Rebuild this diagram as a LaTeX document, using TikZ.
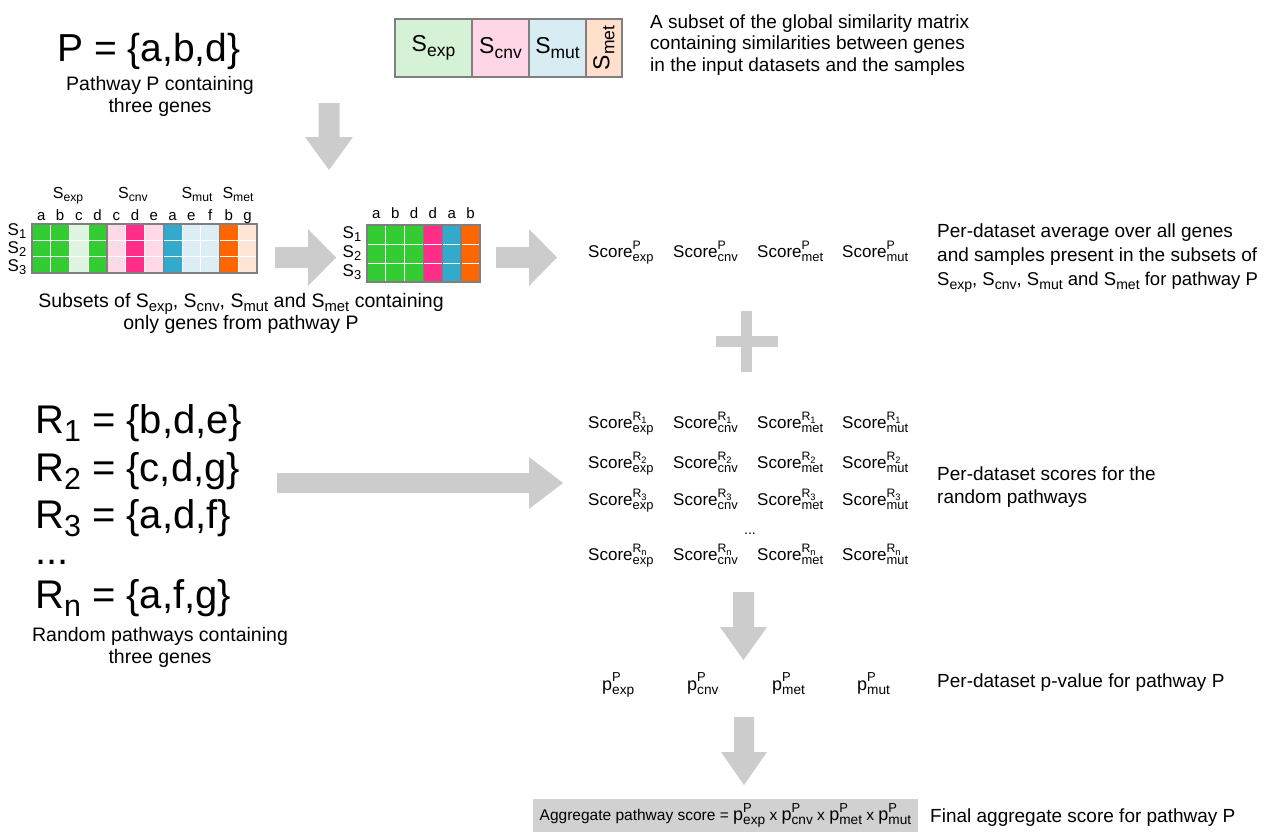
\documentclass[tikz,border=0pt]{standalone}
\usepackage{fontspec}
\setmainfont{Liberation Sans}
\makeatletter
\newcommand\subfs{\fontsize{\fpeval{0.76*\f@size}}{\fpeval{0.76*\f@size}}\selectfont}
\newcommand\supfs{\fontsize{\fpeval{0.72*\f@size}}{\fpeval{0.72*\f@size}}\selectfont}
\makeatother
\newcommand\setfs[1]{\fontsize{#1}{#1}\selectfont}
% lowered subscript
\newcommand\sbs[1]{\raisebox{-0.22em}{\subfs #1}}
% superscript stacked over subscript
\newcommand\sps[2]{\rlap{\raisebox{0.45em}{\supfs #1}}\raisebox{-0.26em}{\subfs #2}}

\definecolor{dg}{HTML}{33CC33}
\definecolor{lg}{HTML}{E0F5E0}
\definecolor{hp}{HTML}{FF2E88}
\definecolor{lp}{HTML}{FFD9E8}
\definecolor{tl}{HTML}{33AACC}
\definecolor{lb}{HTML}{DCEEF5}
\definecolor{orc}{HTML}{FF6600}
\definecolor{pc}{HTML}{FFE5D6}
\definecolor{mexp}{HTML}{D6F2D6}
\definecolor{mcnv}{HTML}{FFD6E7}
\definecolor{mmut}{HTML}{D8ECF3}
\definecolor{mmet}{HTML}{FFE0CC}
\definecolor{bord}{HTML}{7F7F7F}

\tikzset{
  txt/.style={inner sep=0, anchor=base west, font=\setfs{19}},
  ctxt/.style={inner sep=0, anchor=base, font=\setfs{19.5}},
  big/.style={inner sep=0, anchor=base west, font=\setfs{39}},
  sc/.style={inner sep=0, anchor=base west, font=\setfs{17}},
  pv/.style={inner sep=0, anchor=base west, font=\setfs{18}},
  lab/.style={inner sep=0, anchor=base, font=\setfs{15}},
  glab/.style={inner sep=0, anchor=base, font=\setfs{16}},
  rlab/.style={inner sep=0, anchor=base, font=\setfs{17}},
  cell/.style={draw=bord, line width=1.5pt, inner sep=0, minimum height=58, font=\setfs{23}},
  blk/.style={fill=black!20, draw=none},
  grp/.style={draw=bord, line width=1.5pt},
  gridln/.style={white, line width=0.8pt},
}

\begin{document}
\begin{tikzpicture}[x=1pt,y=-1pt]
\useasboundingbox (0,0) rectangle (1265,831);

% ---- pathway P ----
\node[big] (P) at (57,61) {P = \{a,b,d\}};
\node[ctxt] (Pc1) at (160,90) {Pathway P containing};
\node[ctxt] (Pc2) at (160,112) {three genes};

% ---- global similarity matrix ----
\node[cell, fill=mexp, minimum width=77] (gexp) at (433.5,48) {S\sbs{exp}};
\node[cell, fill=mcnv, minimum width=57] (gcnv) at (500.5,48) {S\sbs{cnv}};
\node[cell, fill=mmut, minimum width=57] (gmut) at (557.5,48) {S\sbs{mut}};
\node[cell, fill=mmet, minimum width=36] (gmet) at (604,48) {};
\node[inner sep=0, rotate=90, font=\setfs{23}] (gmetl) at (gmet) {S\sbs{met}};

\node[txt] (g1) at (650,28) {A subset of the global similarity matrix};
\node[txt] (g2) at (650,49.5) {containing similarities between genes};
\node[txt] (g3) at (650,71) {in the input datasets and the samples};

% down arrow
\fill[blk] (318.5,103) -- (339.5,103) -- (339.5,137) -- (353,137) -- (329,170) -- (305,137) -- (318.5,137) -- cycle;

% ---- subsets of the four matrices ----
\foreach \c [count=\i from 0] in {dg,dg,lg,dg,lp,hp,lp,tl,lb,lb,orc,pc}
  \fill[\c] ({32+\i*18.75},224) rectangle ++(18.75,49);
\foreach \i in {1,...,11}
  \draw[gridln] ({32+\i*18.75},224) -- ++(0,49);
\foreach \j in {1,2}
  \draw[gridln] (32,{224+\j*49/3}) -- (257,{224+\j*49/3});
\draw[grp] (32,224) rectangle (107,273);
\draw[grp] (107,224) rectangle (163.25,273);
\draw[grp] (163.25,224) rectangle (219.5,273);
\draw[grp] (219.5,224) rectangle (257,273);
\foreach \l [count=\i from 0] in {a,b,c,d,c,d,e,a,e,f,b,g}
  \node[lab] (lc\i) at ({32+(\i+0.5)*18.75},220) {\l};
\node[glab] (lsexp) at (68,198) {S\sbs{exp}};
\node[glab] (lscnv) at (133,198) {S\sbs{cnv}};
\node[glab] (lsmut) at (197,198) {S\sbs{mut}};
\node[glab] (lsmet) at (238,198) {S\sbs{met}};
\foreach \r/\y in {1/235,2/253,3/271}
  \node[rlab] (lr\r) at (17,\y) {S\sbs{\r}};

\node[ctxt] (sc1) at (241,307) {Subsets of S\sbs{exp}, S\sbs{cnv}, S\sbs{mut} and S\sbs{met} containing};
\node[ctxt] (sc2) at (241,329) {only genes from pathway P};

% arrow to merged matrix
\fill[blk] (275,247) -- (308,247) -- (308,229) -- (336,257.5) -- (308,286) -- (308,268) -- (275,268) -- cycle;

% ---- merged subset ----
\foreach \c [count=\i from 0] in {dg,dg,dg,hp,tl,orc}
  \fill[\c] ({367+\i*18.83},225) rectangle ++(18.83,57);
\foreach \i in {1,2}
  \draw[gridln] ({367+\i*18.83},225) -- ++(0,57);
\foreach \j in {1,2}
  \draw[gridln] (367,{225+\j*19}) -- (480,{225+\j*19});
\draw[grp] (367,225) rectangle (423.5,282);
\draw[grp] (423.5,225) rectangle (442.3,282);
\draw[grp] (442.3,225) rectangle (461.2,282);
\draw[grp] (461.2,225) rectangle (480,282);
\foreach \l [count=\i from 0] in {a,b,d,d,a,b}
  \node[lab] (mc\i) at ({367+(\i+0.5)*18.83},218) {\l};
\foreach \r/\y in {1/238,2/257,3/276}
  \node[rlab] (mr\r) at (352,\y) {S\sbs{\r}};

% arrow to scores
\fill[blk] (496,247) -- (529,247) -- (529,229) -- (557,257.5) -- (529,286) -- (529,268) -- (496,268) -- cycle;

% ---- scores of pathway P ----
\node[sc] (spexp) at (588,257) {Score\sps{P}{exp}};
\node[sc] (spcnv) at (673,257) {Score\sps{P}{cnv}};
\node[sc] (spmet) at (757,257) {Score\sps{P}{met}};
\node[sc] (spmut) at (842,257) {Score\sps{P}{mut}};

\node[txt] (a1) at (937,237) {Per-dataset average over all genes};
\node[txt] (a2) at (937,261) {and samples present in the subsets of};
\node[txt, font=\setfs{18.5}] (a3) at (937,285) {S\sbs{exp}, S\sbs{cnv}, S\sbs{mut} and S\sbs{met} for pathway P};

% plus sign
\fill[blk] (741,311) rectangle (752,372);
\fill[blk] (716,336) rectangle (778,347);

% ---- random pathways ----
\node[big, font=\setfs{40}] (R1) at (35,433) {R\sbs{1} = \{b,d,e\}};
\node[big, font=\setfs{40}] (R2) at (35,481) {R\sbs{2} = \{c,d,g\}};
\node[big, font=\setfs{40}] (R3) at (35,528) {R\sbs{3} = \{a,d,f\}};
\node[big, font=\setfs{40}] (Rd) at (35,564) {...};
\node[big, font=\setfs{40}] (Rn) at (35,608) {R\sbs{n} = \{a,f,g\}};
\node[ctxt] (rc1) at (160,641) {Random pathways containing};
\node[ctxt] (rc2) at (160,663) {three genes};

\fill[blk] (277,473) -- (529,473) -- (529,457) -- (563,483) -- (529,509) -- (529,493) -- (277,493) -- cycle;

% ---- scores of random pathways ----
\foreach \k/\y in {1/428,2/468,3/505,n/560}{
  \node[sc] (re\k) at (588,\y) {Score\sps{R\sbs{\k}}{exp}};
  \node[sc] (rc\k) at (673,\y) {Score\sps{R\sbs{\k}}{cnv}};
  \node[sc] (rm\k) at (757,\y) {Score\sps{R\sbs{\k}}{met}};
  \node[sc] (ru\k) at (842,\y) {Score\sps{R\sbs{\k}}{mut}};
}
\node[inner sep=0, anchor=base, font=\setfs{14}] (rdots) at (750,534) {...};

\node[txt] (b1) at (937,480) {Per-dataset scores for the};
\node[txt] (b2) at (937,503) {random pathways};

\fill[blk] (733,592) -- (754,592) -- (754,627) -- (767,627) -- (743.5,660) -- (720,627) -- (733,627) -- cycle;

% ---- p-values ----
\node[pv] (pexp) at (602,690) {p\sps{P}{exp}};
\node[pv] (pcnv) at (687,690) {p\sps{P}{cnv}};
\node[pv] (pmet) at (772,690) {p\sps{P}{met}};
\node[pv] (pmut) at (857,690) {p\sps{P}{mut}};
\node[txt] (c1) at (937,687) {Per-dataset p-value for pathway P};

\fill[blk] (734,717) -- (754,717) -- (754,752) -- (767,752) -- (744,785) -- (721,752) -- (734,752) -- cycle;

% ---- aggregate score ----
\node[fill=black!18, minimum width=385, minimum height=33, inner sep=0, font=\setfs{15.5}] (agg) at (725.5,815.5)
  {Aggregate pathway score = {\setfs{18}p\sps{P}{exp}} x {\setfs{18}p\sps{P}{cnv}} x {\setfs{18}p\sps{P}{met}} x {\setfs{18}p\sps{P}{mut}}};
\node[txt] (d1) at (930,822) {Final aggregate score for pathway P};
\end{tikzpicture}
\end{document}
